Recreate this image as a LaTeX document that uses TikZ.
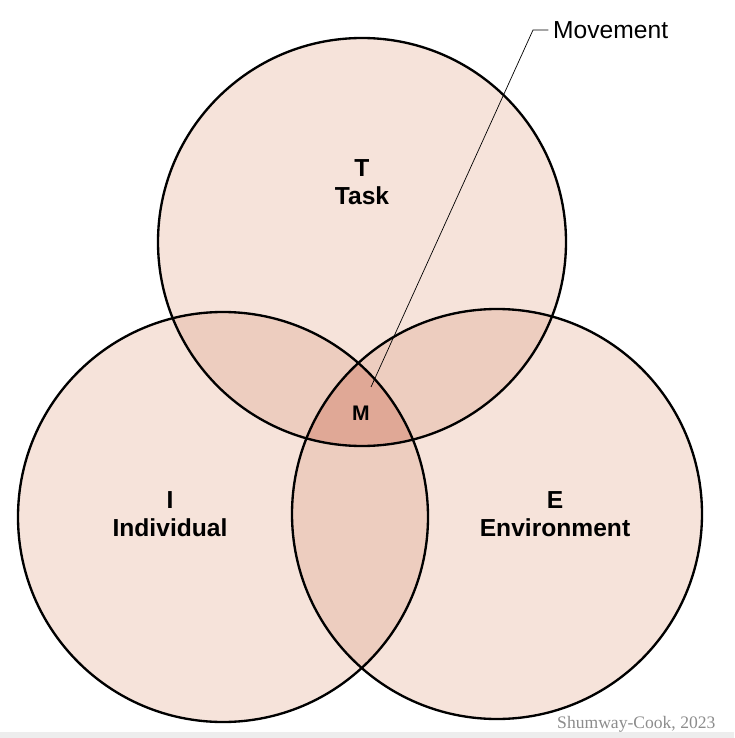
\documentclass[tikz,border=0pt]{standalone}
\usepackage{fontspec}
\setmainfont{Liberation Sans}
\newfontfamily\srcfont{Liberation Serif}
\definecolor{single}{HTML}{F6E3DA}
\definecolor{pair}{HTML}{EDCDBF}
\definecolor{triple}{HTML}{E0A896}
\begin{document}
\begin{tikzpicture}[x=0.03cm, y=-0.03cm,
    ring/.style={draw=black, line width=2pt},
    lbl/.style={font=\fontsize{21}{24}\selectfont\bfseries, align=center},
    ]
\useasboundingbox (0,0) rectangle (734,738);
\fill[black!7] (0,732) rectangle (734,738);
\def\T{(362,242) circle (204)}
\def\I{(223,517) circle (205)}
\def\E{(497,514) circle (205)}
% areas
\fill[single] \T; \fill[single] \I; \fill[single] \E;
\begin{scope} \clip \T; \fill[pair] \I; \fill[pair] \E; \end{scope}
\begin{scope} \clip \I; \fill[pair] \E; \end{scope}
\begin{scope} \clip \T; \clip \I; \fill[triple] \E; \end{scope}
\draw[ring] \T; \draw[ring] \I; \draw[ring] \E;
% labels
\node[lbl] (task) at (362,182) {T\\Task};
\node[lbl] (indiv) at (170,514) {I\\Individual};
\node[lbl] (env) at (555,514) {E\\Environment};
\node[lbl, font=\fontsize{18}{20}\selectfont\bfseries] (m) at (361,413) {M};
\node[anchor=west, inner sep=0pt, font=\fontsize{21}{24}\selectfont] (mov) at (553,30) {Movement};
\coordinate (bend) at (533,30);
\coordinate (tip) at (371,387);
\draw[line width=0.6pt] (tip) -- (bend) -- ([xshift=-4pt]mov.west);
\node[anchor=base west, inner sep=0pt, text=black!45, font=\srcfont\fontsize{15}{17}\selectfont] (src) at (557,728) {Shumway-Cook, 2023};
\end{tikzpicture}
\end{document}
